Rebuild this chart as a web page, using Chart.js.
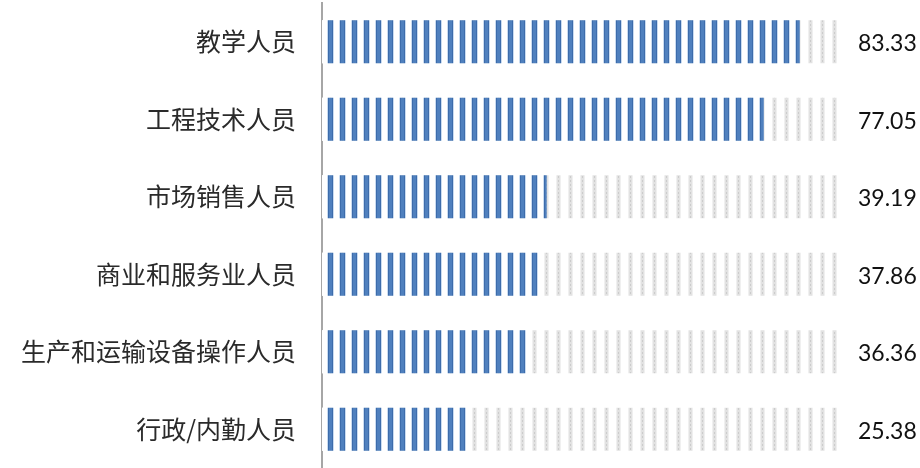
<!DOCTYPE html>
<html>
<head>
<meta charset="utf-8">
<script src="https://cdn.jsdelivr.net/npm/chart.js@4.4.1/dist/chart.umd.min.js"></script>
<style>
  html, body { margin: 0; padding: 0; background: #ffffff; }
  #wrap { width: 920px; height: 468px; position: relative; }
</style>
</head>
<body>
<div id="wrap"><canvas id="c" width="920" height="468"></canvas></div>
<script>
const categories = ['教学人员', '工程技术人员', '市场销售人员', '商业和服务业人员', '生产和运输设备操作人员', '行政/内勤人员'];
const values = [83.33, 77.05, 39.19, 37.86, 36.36, 25.38];
const backgroundTrack = [90, 90, 90, 90, 90, 90];

function makeBluePattern() {
  const t = document.createElement('canvas');
  t.width = 12; t.height = 4;
  const g = t.getContext('2d');
  g.fillStyle = '#ffffff'; g.fillRect(0, 0, 12, 4);
  g.fillStyle = '#c9dbf0'; g.fillRect(3, 0, 1, 4); g.fillRect(9, 0, 1, 4);
  g.fillStyle = '#3d6cab'; g.fillRect(4, 0, 1, 4); g.fillRect(8, 0, 1, 4);
  g.fillStyle = '#4f80be'; g.fillRect(5, 0, 3, 4);
  return t.getContext('2d').createPattern(t, 'repeat');
}
function makeGrayPattern() {
  const t = document.createElement('canvas');
  t.width = 12; t.height = 4;
  const g = t.getContext('2d');
  g.fillStyle = '#ffffff'; g.fillRect(0, 0, 12, 4);
  g.fillStyle = '#f0f0f0'; g.fillRect(4, 0, 1, 4); g.fillRect(8, 0, 1, 4);
  g.fillStyle = '#e2e2e2'; g.fillRect(5, 0, 3, 4);
  g.fillStyle = '#cccccc'; g.fillRect(6, 0, 1, 2);
  return t.getContext('2d').createPattern(t, 'repeat');
}

const labelPlugin = {
  id: 'valueLabels',
  afterDatasetsDraw(chart) {
    const ctx = chart.ctx;
    const meta = chart.getDatasetMeta(0);
    ctx.save();
    ctx.font = '23px Lato';
    ctx.fillStyle = '#111111';
    ctx.textAlign = 'left';
    ctx.textBaseline = 'middle';
    meta.data.forEach((el, i) => {
      ctx.fillText(values[i].toFixed(2), chart.chartArea.right + 20, el.y + 2);
    });
    ctx.restore();
  }
};

new Chart(document.getElementById('c'), {
  type: 'bar',
  data: {
    labels: categories,
    datasets: [
      {
        data: values,
        backgroundColor: makeBluePattern(),
        borderWidth: 0,
        grouped: false,
        order: 0,
        barPercentage: 0.555,
        categoryPercentage: 1
      },
      {
        data: backgroundTrack,
        backgroundColor: makeGrayPattern(),
        borderWidth: 0,
        grouped: false,
        order: 1,
        barPercentage: 0.555,
        categoryPercentage: 1
      }
    ]
  },
  options: {
    indexAxis: 'y',
    responsive: false,
    animation: false,
    devicePixelRatio: 1,
    layout: { padding: { left: 0, right: 82, top: 3, bottom: 0 } },
    plugins: { legend: { display: false }, tooltip: { enabled: false } },
    scales: {
      x: { display: false, min: 0, max: 90 },
      y: {
        grid: { display: false, drawTicks: false },
        border: { display: true, color: '#a6a6a6', width: 2 },
        ticks: {
          padding: 26,
          color: '#2a2a2a',
          font: { family: '"Noto Sans CJK SC"', size: 25 }
        },
        afterFit(scale) {
          scale.width = 322;
          scale.paddingTop = 0;
          scale.paddingBottom = 0;
        }
      }
    }
  },
  plugins: [labelPlugin]
});
</script>
</body>
</html>
